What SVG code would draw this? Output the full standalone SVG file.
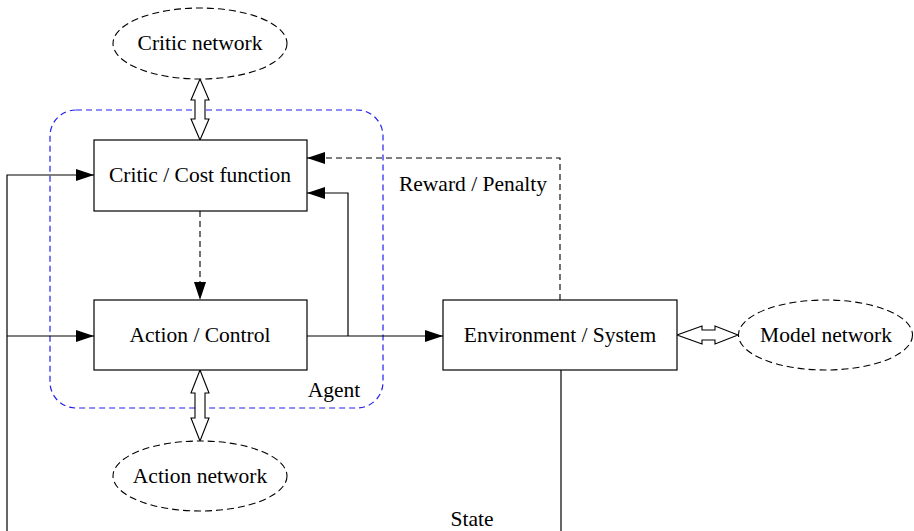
<svg xmlns="http://www.w3.org/2000/svg" width="914" height="531" viewBox="0 0 914 531">
<style>
text{font-family:"Liberation Serif","Times New Roman",serif;font-size:21.5px;fill:#000;text-anchor:middle;dominant-baseline:central}
.box{fill:#fff;stroke:#000;stroke-width:1.2}
.ell{fill:#fff;stroke:#000;stroke-width:1.1;stroke-dasharray:7 4}
.ln{fill:none;stroke:#000;stroke-width:1.2}
.dl{fill:none;stroke:#000;stroke-width:1.1;stroke-dasharray:6 4}
.dbl{fill:#fff;stroke:#000;stroke-width:1.1}
.agent{fill:none;stroke:#2020ee;stroke-width:1.2;stroke-dasharray:6 4}
</style>
<defs>
<marker id="ah" viewBox="0 0 18 12" refX="18" refY="6" markerWidth="18" markerHeight="12" markerUnits="userSpaceOnUse" orient="auto">
<path d="M0,0 L18,6 L0,12 Z" fill="#000"/>
</marker>
</defs>
<rect id="agent" class="agent" x="50" y="110" width="333" height="298" rx="26" ry="26"/>
<g id="connectors">
<polyline class="ln" points="7,531 7,175 94,175" marker-end="url(#ah)"/>
<polyline class="ln" points="7,336 94,336" marker-end="url(#ah)"/>
<line class="dl" x1="200" y1="211" x2="200" y2="300" marker-end="url(#ah)"/>
<line class="ln" x1="307" y1="336" x2="443" y2="336" marker-end="url(#ah)"/>
<polyline class="ln" points="348,336 348,193 307,193" marker-end="url(#ah)"/>
<polyline class="dl" points="560,300 560,158 307,158" marker-end="url(#ah)"/>
<line class="ln" x1="561" y1="370" x2="561" y2="531"/>
<polygon class="dbl" points="200,79 209,100 205,100 205,119 209,119 200,140 191,119 195,119 195,100 191,100"/>
<polygon class="dbl" points="200,370 209,393 205,393 205,418 209,418 200,441 191,418 195,418 195,393 191,393"/>
<polygon class="dbl" points="677,335 702,326 702,330 715,330 715,326 738,335 715,344 715,340 702,340 702,344"/>
</g>
<g id="critic-network"><ellipse class="ell" cx="200" cy="43.5" rx="87" ry="35.5"/><text x="200" y="43">Critic network</text></g>
<g id="critic"><rect class="box" x="94" y="140" width="213" height="71"/><text x="200" y="175">Critic / Cost function</text></g>
<g id="action"><rect class="box" x="94" y="300" width="213" height="70"/><text x="200" y="335">Action / Control</text></g>
<g id="environment"><rect class="box" x="443" y="300" width="234" height="70"/><text x="560" y="335">Environment / System</text></g>
<g id="model-network"><ellipse class="ell" cx="825.5" cy="335" rx="87" ry="35"/><text x="826" y="335">Model network</text></g>
<g id="action-network"><ellipse class="ell" cx="200" cy="476" rx="87" ry="35"/><text x="200" y="476">Action network</text></g>
<text x="473" y="184">Reward / Penalty</text>
<text x="334" y="390">Agent</text>
<text x="472" y="519">State</text>
</svg>
